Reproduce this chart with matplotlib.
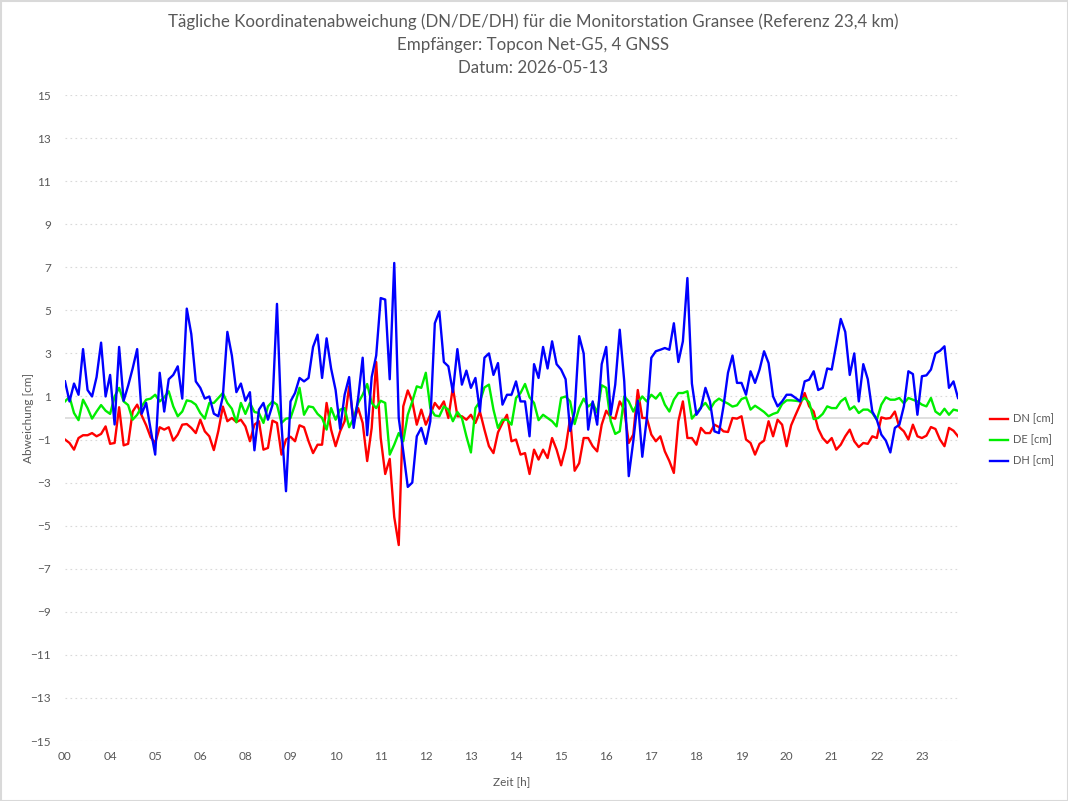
import numpy as np
import matplotlib
matplotlib.use('Agg')
import matplotlib.pyplot as plt

# hour labels on the category axis (01-03 and 07 are missing in the source)
hour_labels = ['00', '04', '05', '06', '08', '09', '10', '11', '12', '13',
               '14', '15', '16', '17', '18', '19', '20', '21', '22', '23']
samples_per_hour = 10

dn = [-1.0, -1.16, -1.47, -0.93, -0.8, -0.8, -0.7, -0.85, -0.74, -0.39,
      -1.2, -1.16, 0.5, -1.27, -1.2, 0.3, 0.62, 0.12, -0.34, -0.9,
      -1.16, -0.43, -0.54, -0.43, -1.05, -0.77, -0.31, -0.28, -0.46, -0.7,
      -0.08, -0.62, -0.85, -1.49,
      -0.6, 0.53, -0.15, 0.0, -0.19, -0.08, -0.39, -1.08, -0.31, -0.15,
      -1.47, -1.39, -0.12, -0.23, -1.7, -1.0, -0.87, -1.08, -0.34, -0.43,
      -1.08, -1.63, -1.24, -1.24, 0.7, -0.54, -1.31, -0.62, -0.15, 1.47,
      -0.15, 0.46, -0.23,
      -2.0, -0.46, 2.6, -0.93, -2.6, -1.9, -4.6, -5.9, 0.54, 1.28,
      0.77, -0.31, 0.39, -0.31, 0.15, 0.7, 0.43, 0.77, 0.0, 1.42,
      0.08, 0.08, -0.08, 0.15, -0.23, 0.3, -0.54, -1.31, -1.63, -0.67,
      -0.23, 0.15, -1.08,
      -1.0, -1.7, -1.63, -2.6, -1.47, -1.93, -1.47, -1.86, -0.93, -1.47,
      -2.2, -1.39, 0.0, -2.45, -2.1, -0.93, -0.93, -1.31, -1.55, -0.31,
      0.34, 0.03, -0.03, 0.77, 0.39, -1.16, -0.77, 1.3, 0.0, 0.0,
      -0.77, -1.08, -0.85,
      -1.55, -2.0, -2.55, -0.15, 0.77, -0.93, -0.93, -1.24, -0.46, -0.7,
      -0.7, -0.31, -0.42, -0.62, -0.65, 0.0, -0.03, 0.08, -1.0, -1.16,
      -1.7, -1.2, -1.05, -0.15, -0.85, -0.08, -0.31, -1.31, -0.34, 0.15,
      0.62, 1.16, 0.54, 0.3,
      -0.5, -0.93, -1.16, -0.93, -1.47, -1.24, -0.85, -0.54, -1.08, -1.35,
      -1.16, -1.2, -0.85, -0.93, 0.03, -0.03, 0.0, 0.3, -0.43, -0.62,
      -1.0, -0.31, -0.85, -0.93, -0.82, -0.42, -0.51, -1.0, -1.31, -0.46,
      -0.59, -0.85]

de = [0.77, 0.98, 0.23, -0.1, 0.85, 0.46, -0.03, 0.3, 0.6, 0.34,
      0.19, 1.0, 1.4, 0.77, 0.6, -0.08, 0.15, 0.54, 0.85, 0.9,
      1.08, 0.77, 0.96, 1.24, 0.54, 0.08, 0.3, 0.82, 0.77, 0.62,
      0.23, -0.03, 0.7, 0.7,
      0.93, 1.16, 0.7, 0.43, -0.2, 0.7, 0.19, 0.7, 0.28, 0.23,
      -0.23, 0.54, 0.77, 0.62, -0.23, -0.03, 0.0, 0.62, 1.4, 0.15,
      0.54, 0.5, 0.19, 0.0, -0.54, 0.46, -0.08, 0.39, 0.46, -0.43,
      0.0, 0.7, 1.08,
      1.58, 0.7, 0.46, 0.8, 0.7, -1.7, -1.24, -0.7, -1.08, 0.15,
      0.77, 1.47, 1.4, 2.1, 0.46, 0.12, 0.08, 0.54, 0.39, -0.15,
      0.28, 0.0, -0.85, -1.6, 0.46, 0.77, 1.42, 1.55, 0.39, -0.46,
      -0.08, -0.08, -0.31,
      0.93, 1.16, 1.58, 0.96, 0.7, -0.1, 0.15, 0.0, -0.15, -0.39,
      0.93, 1.0, 0.77, -0.28, 0.46, 0.9, 0.53, 0.7, 0.25, 1.52,
      1.4, -0.15, -0.74, -0.62, 1.0, 0.77, 0.3, 0.7, 1.0, 0.77,
      1.08, 0.9, 1.16,
      0.62, 0.3, 0.85, 1.16, 1.16, 1.24, -0.03, 0.23, 0.5, 0.7,
      0.39, 0.74, 0.9, 0.77, 0.67, 0.53, 0.59, 0.88, 0.96, 0.39,
      0.57, 0.43, 0.28, 0.08, 0.19, 0.26, 0.65, 0.82, 0.82, 0.8,
      0.77, 0.93, 0.73, -0.05,
      0.0, 0.19, 0.54, 0.46, 0.46, 0.77, 0.93, 0.39, 0.54, 0.23,
      0.39, 0.39, 0.23, -0.08, 0.62, 0.96, 0.85, 0.85, 0.93, 0.68,
      0.93, 0.85, 0.77, 0.62, 0.54, 0.93, 0.3, 0.15, 0.43, 0.15,
      0.39, 0.34]

dh = [1.7, 0.77, 1.6, 1.08, 3.2, 1.3, 1.0, 1.9, 3.5, 1.0,
      2.0, -0.3, 3.3, 0.8, 1.5, 2.3, 3.2, 0.2, 0.7, -0.55,
      -1.7, 2.1, 0.3, 1.8, 2.0, 2.4, 0.9, 5.08, 3.9, 1.7,
      1.4, 0.9, 1.0, 0.2,
      0.08, 1.0, 4.0, 2.9, 1.2, 1.6, 0.8, 1.2, -1.5, 0.39,
      0.7, -0.08, 0.6, 5.3, -0.3, -3.4, 0.77, 1.16, 1.86, 1.7,
      1.86, 3.3, 3.87, 1.86, 3.7, 2.3, 1.3, -0.5, 1.08, 1.9,
      -0.46, 0.93, 2.8,
      -0.8, 1.9, 2.9, 5.57, 5.5, 1.8, 7.2, 0.0, -1.55, -3.2,
      -3.0, -0.85, -0.46, -1.2, -0.15, 4.4, 4.95, 2.6, 2.4, 1.2,
      3.2, 1.55, 2.2, 1.4, 1.86, 0.3, 2.8, 3.0, 2.0, 2.55,
      0.62, 1.08, 1.08,
      1.7, 0.77, 0.77, -0.85, 2.5, 1.86, 3.3, 2.3, 3.56, 2.5,
      2.25, 1.8, -0.6, 0.3, 3.8, 3.0, -0.54, 0.77, -0.31, 2.5,
      3.3, 0.15, 1.55, 4.1, 1.7, -2.7, -1.08, 0.8, -1.8, 0.0,
      2.8, 3.1, 3.17,
      3.25, 3.17, 4.4, 2.6, 3.56, 6.5, 1.6, 0.15, 0.46, 1.4,
      0.77, -0.62, -0.7, 0.54, 2.1, 2.9, 1.63, 1.63, 1.08, 2.17,
      1.63, 2.25, 3.1, 2.55, 1.0, 0.54, 0.77, 1.08, 1.08, 0.93,
      0.77, 1.7, 1.78, 2.17,
      1.3, 1.4, 2.3, 2.25, 3.4, 4.6, 4.0, 2.0, 3.0, 0.77,
      2.5, 1.8, 0.3, -0.08, -0.77, -1.05, -1.6, -0.46, -0.31, 0.54,
      2.17, 2.04, 0.15, 1.94, 1.98, 2.25, 3.0, 3.12, 3.33, 1.4,
      1.7, 0.93]

series = [('DN [cm]', dn, '#ff0000'), ('DE [cm]', de, '#00ee00'), ('DH [cm]', dh, '#0000ff')]

plt.rcParams['font.family'] = ['Lato', 'DejaVu Sans']
text_color = '#595959'
grid_color = '#d9d9d9'

fig = plt.figure(figsize=(10.68, 8.01), dpi=100)
ax = fig.add_axes([65 / 1068, 1 - 741 / 801, 893 / 1068, 646 / 801])

x = np.arange(len(dn)) / samples_per_hour
for name, vals, col in series:
    ax.plot(x, vals, color=col, lw=1.7, label=name, solid_joinstyle='round')

ax.set_xlim(0, x[-1])
ax.set_ylim(-15, 15)
ax.set_yticks(range(-15, 16, 2))
ax.set_xticks(range(len(hour_labels)))
ax.set_xticklabels(hour_labels)
ax.yaxis.grid(True, linestyle=(0, (1.5, 3)), color=grid_color, lw=0.8)
ax.set_axisbelow(True)
ax.axhline(0, color=grid_color, lw=1.2, zorder=0.5)
for s in ax.spines.values():
    s.set_visible(False)
ax.tick_params(length=0, labelsize=8.5, colors=text_color)
ax.tick_params(axis='y', pad=10)
ax.tick_params(axis='x', pad=7)

ax.set_xlabel('Zeit [h]', fontsize=8.5, color=text_color)
ax.set_ylabel('Abweichung [cm]', fontsize=8.5, color=text_color)
ax.xaxis.set_label_coords(0.5, -35 / 646)
ax.yaxis.set_label_coords(-31 / 893, 0.5)

titles = ['Tägliche Koordinatenabweichung (DN/DE/DH) für die Monitorstation Gransee (Referenz 23,4 km)',
          'Empfänger: Topcon Net-G5, 4 GNSS',
          'Datum: 2026-05-13']
for i, t in enumerate(titles):
    fig.text(533 / 1068, 1 - (22 + 23 * i) / 801, t, ha='center', va='center',
             fontsize=12.2, color=text_color)

ax.legend(loc='center left', bbox_to_anchor=(980 / 1068, 1 - 440 / 801),
          bbox_transform=fig.transFigure, frameon=False, fontsize=8,
          handlelength=1.6, labelspacing=0.9, handletextpad=0.5, labelcolor=text_color)

fig.patches.append(plt.Rectangle((0.5 / 1068, 0.5 / 801), 1 - 1 / 1068, 1 - 1 / 801,
                                 transform=fig.transFigure, fill=False,
                                 edgecolor=grid_color, lw=1.5))

fig.savefig('out.png', dpi=100)
